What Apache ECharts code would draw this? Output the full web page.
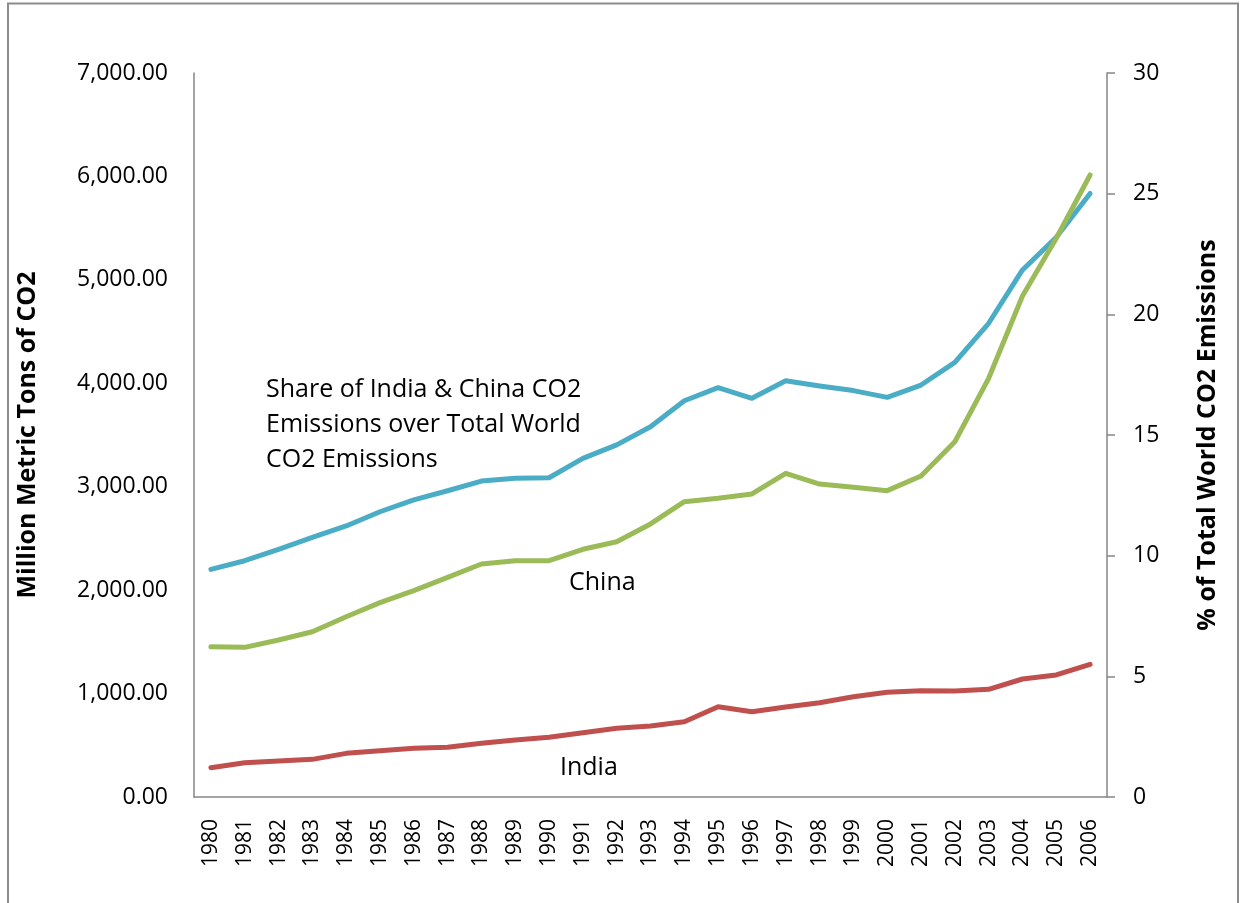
<!DOCTYPE html>
<html>
<head>
<meta charset="utf-8">
<title>India & China CO2</title>
<script src="https://cdn.jsdelivr.net/npm/echarts@6/dist/echarts.min.js"></script>
<style>
  html, body { margin: 0; padding: 0; background: #fff; }
  #co2chart { width: 1243px; height: 903px; }
</style>
</head>
<body>
<!-- 印度和中国二氧化碳排放 -->
<div id="co2chart"></div>
<script>
// 年份
const years = ['1980','1981','1982','1983','1984','1985','1986','1987','1988','1989','1990','1991','1992','1993',
  '1994','1995','1996','1997','1998','1999','2000','2001','2002','2003','2004','2005','2006'];
// 中国排放量（百万吨）
const chinaTons = [1453, 1447, 1518, 1598, 1743, 1879, 1995, 2124, 2253, 2285, 2285, 2395, 2468, 2640,
  2855, 2888, 2930, 3130, 3026, 2994, 2962, 3104, 3435, 4048, 4844, 5402, 6014];
// 印度排放量（百万吨）
const indiaTons = [283, 332, 348, 364, 422, 448, 471, 480, 519, 551, 577, 622, 664, 686,
  728, 873, 825, 870, 912, 970, 1012, 1028, 1025, 1041, 1141, 1180, 1283];
// 两国占世界总排放的百分比
const worldShare = [9.43, 9.79, 10.26, 10.76, 11.23, 11.82, 12.31, 12.69, 13.09, 13.21, 13.23, 14.03, 14.59, 15.34,
  16.42, 16.96, 16.52, 17.25, 17.03, 16.84, 16.56, 17.07, 18.01, 19.63, 21.84, 23.19, 25.01];
// 刻度
const leftTicks = { min: 0, max: 7000, interval: 1000 };
const rightTicks = { min: 0, max: 30, interval: 5 };

const textFont = '"Open Sans", Calibri, sans-serif';
const titleFont = '"Liberation Sans Narrow", "Open Sans", sans-serif';
const axisGray = '#868686';

const co2Option = {
  animation: false,
  grid: { left: 194, right: 136, top: 73, bottom: 106 },
  xAxis: {
    type: 'category',
    data: years,
    boundaryGap: true,
    axisLine: { lineStyle: { color: axisGray, width: 1.5 } },
    axisTick: { show: false },
    axisLabel: {
      rotate: 90,
      interval: 0,
      margin: 22,
      color: '#000',
      fontFamily: textFont,
      fontSize: 21
    }
  },
  yAxis: [
    {
      type: 'value',
      min: leftTicks.min, max: leftTicks.max, interval: leftTicks.interval,
      name: 'Million Metric Tons of CO2',
      nameLocation: 'middle',
      nameGap: 154,
      nameRotate: 90,
      nameTextStyle: { color: '#000', fontFamily: titleFont, fontWeight: 'bold', fontSize: 25 },
      axisLine: { show: true, lineStyle: { color: axisGray, width: 1.5 } },
      axisTick: { show: false },
      splitLine: { show: false },
      axisLabel: {
        margin: 26,
        color: '#000',
        fontFamily: textFont,
        fontSize: 23,
        formatter: function (v) {
          return v.toLocaleString('en-US', { minimumFractionDigits: 2, maximumFractionDigits: 2 });
        }
      }
    },
    {
      type: 'value',
      position: 'right',
      min: rightTicks.min, max: rightTicks.max, interval: rightTicks.interval,
      name: '% of Total World CO2 Emissions',
      nameLocation: 'middle',
      nameGap: 88,
      nameRotate: 90,
      nameTextStyle: { color: '#000', fontFamily: titleFont, fontWeight: 'bold', fontSize: 25 },
      axisLine: { show: true, lineStyle: { color: axisGray, width: 1.5 } },
      axisTick: { show: true, inside: false, length: 8, lineStyle: { color: axisGray, width: 1.5 } },
      splitLine: { show: false },
      axisLabel: { margin: 26, color: '#000', fontFamily: textFont, fontSize: 23 }
    }
  ],
  series: [
    {
      name: 'Share',
      type: 'line',
      yAxisIndex: 1,
      data: worldShare,
      showSymbol: false,
      lineStyle: { color: '#4BACC6', width: 5, cap: 'round', join: 'round' }
    },
    {
      name: 'China',
      type: 'line',
      yAxisIndex: 0,
      data: chinaTons,
      showSymbol: false,
      lineStyle: { color: '#9BBB59', width: 5, cap: 'round', join: 'round' }
    },
    {
      name: 'India',
      type: 'line',
      yAxisIndex: 0,
      data: indiaTons,
      showSymbol: false,
      lineStyle: { color: '#C0504D', width: 5, cap: 'round', join: 'round' }
    }
  ],
  // 外框和文字注释
  graphic: [
    {
      type: 'rect',
      shape: { x: 8, y: 3.5, width: 1230, height: 930 },
      style: { fill: 'none', stroke: '#8c8c8c', lineWidth: 2 },
      silent: true
    },
    {
      type: 'text',
      left: 266, top: 372,
      style: {
        text: 'Share of India & China CO2\nEmissions over Total World\nCO2 Emissions',
        font: '25px ' + textFont,
        lineHeight: 35,
        fill: '#000'
      }
    },
    {
      type: 'text',
      left: 569, top: 570,
      style: { text: 'China', font: '25px ' + textFont, fill: '#000' }
    },
    {
      type: 'text',
      left: 560, top: 755,
      style: { text: 'India', font: '25px ' + textFont, fill: '#000' }
    }
  ]
};

const co2Chart = echarts.init(document.getElementById('co2chart'));
co2Chart.setOption(co2Option, true);
window.addEventListener('resize', function () {
  co2Chart.resize();
});
</script>
</body>
</html>
